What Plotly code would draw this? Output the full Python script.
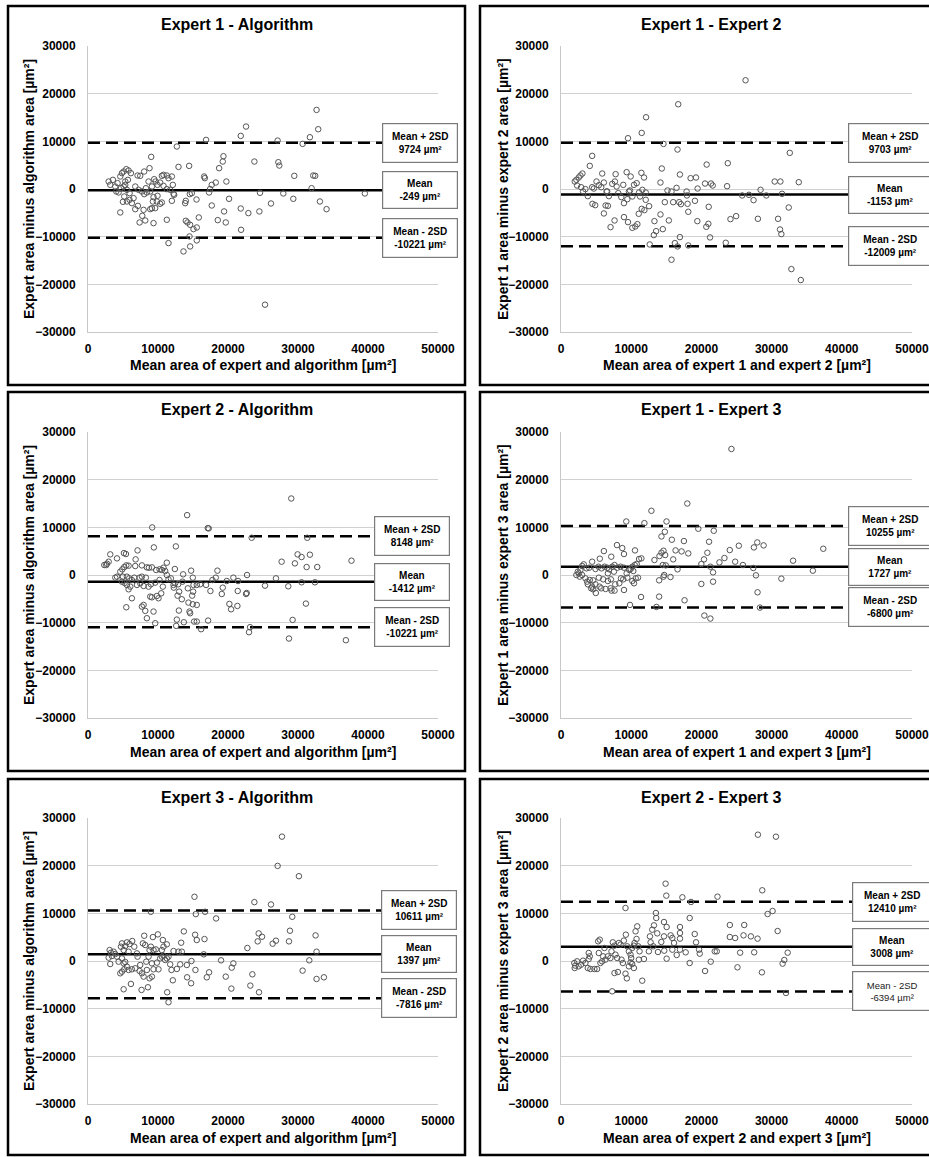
import plotly.graph_objects as go

W, H = 929, 1157

# ---------------- data ----------------
titles = ["Expert 1 - Algorithm", "Expert 1 - Expert 2",
          "Expert 2 - Algorithm", "Expert 1 - Expert 3",
          "Expert 3 - Algorithm", "Expert 2 - Expert 3"]
x_titles = ["Mean area of expert and algorithm [µm²]", "Mean area of expert 1 and expert 2 [µm²]",
            "Mean area of expert and algorithm [µm²]", "Mean area of expert 1 and expert 3 [µm²]",
            "Mean area of expert and algorithm [µm²]", "Mean area of expert 2 and expert 3 [µm²]"]
y_titles = ["Expert area minus algorithm area [µm²]", "Expert 1 area minus expert 2 area [µm²]",
            "Expert area minus algorithm area [µm²]", "Expert 1 area minus expert 3 area [µm²]",
            "Expert area minus algorithm area [µm²]", "Expert 2 area minus expert 3 area [µm²]"]

means = [-249, -1153, -1412, 1727, 1397, 3008]
upper = [9724, 9703, 8148, 10255, 10611, 12410]
lower = [-10221, -12009, -10972, -6800, -7816, -6394]
mean_labels = ["-249", "-1153", "-1412", "1727", "1397", "3008"]
upper_labels = ["9724", "9703", "8148", "10255", "10611", "12410"]
lower_labels = ["-10221", "-12009", "-10221", "-6800", "-7816", "-6394"]

x_range = [0, 50000]
y_range = [-30000, 30000]
tick_step = 10000

p1 = [(32650,16590),(32890,12540),(22580,13100),(21820,11140),(31700,10860),(30660,9470),(27090,10160),
      (16870,10300),(12690,8910),(9030,6740),(19350,6880),(19250,5760),(18730,4370),(23770,5760),(27190,5620),
      (27330,4920),(12930,4640),(14450,4850),(8790,4370),(29470,2760),(32180,2830),(32460,2760),(16590,2620),
      (16690,2270),(19770,1570),(18250,1360),(17680,870),(17440,0),(17300,-730),(31940,170),(24570,-800),
      (27900,-940),(39550,-940),(14830,-870),(14540,-1080),(15500,-2200),(13970,-2480),(13880,-2970),
      (20150,-2060),(29330,-2060),(33130,-2620),(34080,-4230),(26140,-3040),(17680,-3460),(19440,-4710),
      (21820,-4090),(22910,-5060),(24480,-4710),(15830,-5970),(18540,-6530),(19680,-7020),(13970,-6670),
      (14210,-7020),(14590,-7510),(15540,-8070),(15070,-8420),(21870,-8560),(11260,-6460),(14500,-9950),
      (15540,-10790),(11500,-11350),(14590,-12050),(13640,-13100),(25290,-24270),(4610,-4920),(7370,-7020),
      (8180,-6600),(9360,-7160),(7750,-5620),(7940,-4370),(7130,-3530),(6750,-4230),(6270,-2970),(5940,-2270),
      (8890,-4230),(9130,-4020),(9600,-4020),(9840,-2620),(9270,-2620),(10310,-3110),(10550,-2830),
      (11980,-2480),(12220,-1010),(11740,-170),(12310,-1220),(2950,1570),(3180,870),(3560,1920),(3900,520),
      (4040,-520),(4370,-730),(4230,1220),(4610,2620),(4850,3320),(5090,3670),(5470,4160),(5800,3880),
      (6130,3320),(4710,170),(5090,520),(5320,870),(5560,-170),(5180,-1570),(4990,-2690),(5560,-2620),
      (5940,-870),(5320,1570),(5700,1920),(7080,2830),(7460,2760),(6750,520),(7220,-170),(7700,-520),
      (8030,-1080),(8030,3670),(8650,1570),(9130,520),(9460,2060),(9650,1570),(9930,870),(10310,1360),
      (10550,2760),(10790,2970),(11260,2830),(11500,2270),(11980,2620),(10790,660),(11260,-30),(12120,870),
      (8890,-520),(8410,-730),(8270,170),(6510,-1920),(9360,-1710),(9930,-1430)]

p2 = [(26290,22810),(16700,17780),(12120,15050),(11500,11770),(9540,10650),(14600,9460),(16600,8280),
      (32590,7580),(4440,6950),(4100,4850),(20750,5130),(23760,5410),(14360,4300),(5870,3250),(7780,3110),
      (9350,3530),(9920,2620),(11450,3390),(11830,2410),(16940,3040),(18460,2270),(19230,2410),(14170,1360),
      (20520,1150),(21370,1150),(21610,730),(23660,590),(30440,1570),(31250,1570),(33870,1430),(19460,100),
      (16460,240),(15170,-310),(15740,-520),(17890,-520),(17940,-1360),(25810,-1360),(26770,-1220),
      (28430,-170),(29250,-1360),(27430,-2340),(31490,-1010),(14790,-2760),(15980,-2760),(16840,-2760),
      (17080,-3180),(18030,-3110),(19080,-2480),(21040,-3740),(14170,-5340),(12550,-3600),(11880,-4440),
      (11500,-4160),(11070,-5200),(18130,-4780),(19420,-6740),(20990,-7300),(20700,-7930),(21230,-10160),
      (24140,-6320),(24950,-5690),(28050,-6250),(30920,-6250),(31200,-8490),(31390,-9460),(32440,-3880),
      (32820,-16800),(34160,-19100),(13310,-6740),(13550,-8840),(13220,-9670),(12640,-11630),(14500,-8420),
      (15360,-6600),(16220,-11350),(16940,-10090),(18130,-11840),(23470,-11280),(15740,-14840),(16600,-12050),
      (7060,-8000),(7630,-6600),(8970,-5900),(9540,-6950),(10160,-8140),(10590,-7860),(10880,-7370),
      (6110,-5130),(6350,-3460),(6680,-3530),(4480,-3110),(4870,-3390),(3820,-1500),(1960,1570),(2190,1920),
      (2530,2410),(2770,2830),(3050,3250),(2290,730),(2860,380),(3150,-520),(3480,-30),(4440,380),(4680,100),
      (5060,1570),(5390,800),(5730,380),(6110,1360),(6490,-520),(6820,-1500),(7300,1080),(7680,1570),
      (7920,520),(8160,-870),(8590,-1710),(8870,870),(8970,-2970),(9450,-2130),(9680,-520),(9830,-310),
      (10160,-1570),(10400,870),(10780,1220),(11120,-730),(11260,-1570),(11590,-170),(12070,-730),
      (12070,-2270),(6580,-520)]

p3 = [(29040,16050),(14160,12560),(9170,9980),(17110,9840),(17250,9770),(31320,7810),(23380,7810),
      (12550,6000),(9410,5790),(7080,5160),(5130,4600),(5420,4400),(3180,4330),(4140,3490),(6800,3280),
      (11260,2580),(29940,4330),(30510,3770),(31700,4260),(27660,2790),(29560,2440),(37640,3000),(31230,1670),
      (32750,1670),(10790,1530),(10220,1190),(9740,1050),(9130,1600),(8700,1530),(5800,1950),(5470,2020),
      (5180,1670),(4900,1190),(6750,1880),(7700,2020),(8410,1600),(2330,2090),(2610,2090),(2950,2790),
      (2710,2370),(3900,-560),(4140,-350),(12410,1260),(13590,140),(14970,-560),(14730,910),(18490,910),
      (18250,-560),(17780,-1050),(17490,-3350),(16870,-2090),(19250,-2650),(19110,-3980),(19820,-1260),
      (21440,-1260),(22720,0),(22670,-3770),(21390,-3350),(21340,-6490),(20200,-6070),(20440,-7190),
      (22580,-3980),(25290,-2230),(26850,-700),(28610,-2370),(30510,-1530),(32420,-1530),(31130,-6000),
      (29230,-9420),(28710,-13330),(36840,-13680),(23000,-12000),(23150,-10950),(16020,-1950),(15540,-2090),
      (15020,-3490),(14880,-4330),(14260,-2790),(15070,-2090),(14350,-5790),(14500,-7670),(14590,-8020),
      (14970,-6140),(15540,-6280),(15160,-9770),(15540,-9770),(16160,-11370),(17160,-9560),(13690,-9910),
      (12690,-9350),(12600,-10670),(12980,-7460),(12790,-4330),(13400,-5090),(13020,-3490),(12260,-2650),
      (12450,-1740),(12880,-1950),(13500,-1400),(9600,-10120),(9360,-7670),(8410,-9070),(8180,-7530),
      (7940,-6280),(7700,-6630),(5470,-6770),(6270,-4880),(5800,-3000),(6040,-2440),(5560,-2090),
      (5230,-1670),(4850,-1400),(6990,-2090),(7460,-1740),(7940,-2300),(8650,-2440),(8890,-4540),
      (9130,-4680),(9840,-4400),(10070,-4880),(10460,-3840),(10690,-2440),(10220,-1050),(9600,-1600),
      (8990,-1950),(8270,-560),(7700,-350),(7370,-560),(6610,-560),(6270,-1050),(5890,-700),(5560,-350),
      (4990,-350),(4610,700),(11500,-910),(11840,-700),(11260,0),(10550,1050),(11030,840),(12220,-2090),
      (20770,-560)]

p4 = [(24280,26440),(17990,15000),(12880,13470),(9300,11230),(11880,10880),(15030,11230),(19560,9700),
      (21760,9280),(14790,9070),(14310,8090),(15790,7400),(17510,7120),(21090,6980),(27960,6840),(28860,6210),
      (25330,6140),(27480,5790),(24040,5230),(37360,5510),(16320,5160),(17180,4950),(18130,4530),(20850,4670),
      (14600,5090),(14310,4670),(14840,4190),(14030,3980),(15980,3280),(20370,3280),(23280,3560),(22570,2650),
      (24810,2790),(25910,2090),(33060,3000),(13310,3140),(10540,5160),(6110,5020),(7970,6280),(8730,5650),
      (8970,4400),(7160,3840),(5530,3420),(14500,2090),(14930,2020),(16600,1190),(19990,2300),(21280,1740),
      (21660,560),(27390,1470),(27770,-70),(35880,910),(31390,-770),(21660,-1400),(19990,-1880),(14700,0),
      (14600,-350),(15600,-420),(13980,-1120),(28000,-3630),(28340,-6840),(17600,-5300),(13980,-4540),
      (11400,-4610),(13600,-6700),(9830,-6280),(20420,-8510),(21280,-9140),(8970,-3140),(7630,-3280),
      (7200,-3280),(6350,-2930),(5730,-2790),(5490,-2440),(4960,-3770),(4580,-3000),(4440,-2440),(3820,-1950),
      (4580,-1120),(4100,-1050),(5390,-560),(6010,-910),(6680,-1260),(7110,-910),(7730,-1950),(8300,-1740),
      (8540,-700),(8870,-910),(9450,-560),(10160,-1260),(10400,-1740),(10640,-700),(10970,-560),(9730,1050),
      (10160,1740),(10500,2090),(10780,2300),(11120,3350),(11450,3490),(9350,350),(8970,1530),(8490,1740),
      (8020,1530),(7630,2090),(7300,1740),(6870,1190),(6580,1530),(6200,1740),(5770,1400),(5340,1740),
      (4910,1260),(4440,2790),(4010,1530),(3630,1400),(3240,2230),(3010,1880),(2770,1050),(2530,350),
      (2190,0),(2390,700),(2670,-350),(3010,0),(3480,-700),(3720,-1400),(4290,-2790),(4910,-1950),(6680,350),
      (7540,700),(9920,1260),(10300,840),(7060,-2790)]

p5 = [(27710,26090),(27090,19950),(30130,17790),(15210,13470),(23770,12350),(26140,11860),(15400,9840),
      (16730,10330),(8980,10330),(18300,8930),(29180,9280),(13690,6210),(28850,6350),(28710,4120),(32510,5370),
      (24380,5790),(24860,5090),(24240,4120),(26850,4260),(26380,3630),(22770,2720),(15300,5510),(15540,4400),
      (16640,4600),(13310,3840),(8030,5300),(9270,5020),(9980,5580),(10690,4400),(11260,3490),(32650,1950),
      (31610,140),(30660,-2020),(32650,-3770),(33700,-3420),(16540,1400),(14780,0),(15350,-1880),(17300,-2370),
      (16970,-3420),(19010,140),(19680,-3280),(20530,-1400),(20770,-490),(20480,-5790),(23190,-5160),
      (23480,-2790),(24430,-6560),(14160,-3420),(14730,-4670),(12120,-4050),(11310,-6560),(11500,-8650),
      (8560,-5510),(7650,-6070),(5090,-5930),(6130,-4810),(12690,-1670),(11930,-1880),(12220,2090),
      (12930,1950),(13400,1950),(14120,-840),(13170,-700),(2950,700),(3090,2300),(3280,1740),(3420,1050),
      (3180,-630),(3660,1950),(3900,1470),(4140,910),(4370,-140),(4710,3000),(4850,3700),(5090,2300),
      (5320,3140),(5560,3910),(5940,3560),(6320,4190),(6610,3000),(5800,1950),(4850,560),(5090,-490),
      (5320,-210),(5560,-1190),(5180,-1740),(4850,-2230),(4610,-2580),(5800,-1880),(6270,-1740),(6750,-1530),
      (6990,1600),(7080,910),(7460,-840),(7370,-2090),(7700,-2580),(7940,-3280),(8410,-1880),(8320,-140),
      (8650,910),(8790,2300),(8170,3350),(7840,3700),(8980,3000),(9360,2300),(9690,2440),(9840,-350),
      (10070,-1740),(9360,-1740),(9130,-490),(10310,560),(10550,910),(10790,1120),(11030,210),(11260,560),
      (11500,910),(11740,-700),(9130,-3280),(8790,-3630),(10550,2300),(10790,3000)]

p6 = [(28050,26500),(30620,26080),(28670,14830),(14900,16220),(15000,13710),(17290,13360),(22290,13500),
      (18520,12380),(9190,11120),(30140,10490),(29430,9860),(13520,10070),(13570,9020),(18330,9020),
      (14670,8180),(13240,7480),(15050,7130),(16950,7130),(24050,7550),(26100,7550),(30860,6290),(16950,5870),
      (19050,5660),(13000,6570),(13710,5800),(14670,5170),(15620,5380),(15860,4830),(24050,5030),(24810,4830),
      (26000,5380),(27050,5170),(28000,4690),(12670,5170),(16950,4690),(19240,3920),(16100,3780),(14290,3990),
      (12760,3920),(13140,3080),(12520,2030),(13810,1890),(14710,2170),(15860,2380),(16480,1260),(16950,2380),
      (17760,1820),(19670,2380),(19760,1540),(21900,2030),(22190,2030),(25520,1750),(27520,1820),(32290,1750),
      (18330,-420),(21330,-140),(20520,-2100),(25140,-1330),(28620,-2380),(31810,210),(31570,-560),
      (32050,-6710),(15050,490),(11810,420),(11570,-4130),(9190,-2660),(9380,-3640),(8100,-2310),(7620,-2520),
      (7290,-6360),(10380,-1470),(10140,-630),(1900,-420),(2050,-980),(1950,-1470),(2290,-70),(2520,-1120),
      (2860,-770),(3140,70),(3480,-420),(3950,1680),(4100,980),(3950,420),(3810,-1470),(4190,-1680),
      (4760,-1680),(5140,-1680),(5290,4130),(5520,4480),(5380,1680),(5620,-420),(5860,-70),(6000,980),
      (6190,2730),(6330,280),(6670,980),(7050,630),(7190,2030),(7380,3920),(7620,3220),(7760,1330),(8000,630),
      (8240,3780),(8480,3430),(8620,280),(8810,-420),(8950,4270),(9240,5520),(9430,3080),(9670,2030),
      (9910,1330),(10000,630),(10140,2730),(10380,3220),(10480,3780),(10760,4620),(10860,7270),(10620,6220),
      (11000,3080),(11190,2030),(11100,280),(9910,-280),(9670,-1120)]

panels = [p1, p2, p3, p4, p5, p6]

# ---------------- layout geometry (pixels) ----------------
col_x = [(88, 438), (561, 912)]
row_y = [(46, 332), (432, 718), (818, 1104)]
frames = [(8, 6, 465, 385), (480, 6, 929, 385),
          (8, 392, 465, 771), (480, 392, 929, 771),
          (8, 779, 465, 1155), (480, 779, 929, 1155)]
title_x = [237, 711]
title_y = [24, 410, 797]
xt_y = [365, 752, 1138]
yt_x = [29, 503]
box_left = [382, 848, 374, 848, 381, 852]
box_right = [458, 932, 450, 932, 457, 932]

def px(x):
    return x / W

def py(y):
    return 1 - y / H

FAM = "Liberation Sans, Arial, sans-serif"
BOLD = dict(family=FAM, color="black", weight="bold")

fig = go.Figure()
annotations = []
shapes = []

for i, pts in enumerate(panels):
    r, c = divmod(i, 2)
    n = "" if i == 0 else str(i + 1)
    xa, ya = "x" + n, "y" + n
    xs = [p[0] for p in pts]
    ys = [p[1] for p in pts]

    fig.add_trace(go.Scatter(x=x_range, y=[upper[i]] * 2, mode="lines", xaxis=xa, yaxis=ya,
                             line=dict(color="black", width=2.5, dash="12px,6px"), hoverinfo="skip",
                             showlegend=False))
    fig.add_trace(go.Scatter(x=x_range, y=[lower[i]] * 2, mode="lines", xaxis=xa, yaxis=ya,
                             line=dict(color="black", width=2.5, dash="12px,6px"), hoverinfo="skip",
                             showlegend=False))
    fig.add_trace(go.Scatter(x=x_range, y=[means[i]] * 2, mode="lines", xaxis=xa, yaxis=ya,
                             line=dict(color="black", width=2.5), hoverinfo="skip", showlegend=False))
    fig.add_trace(go.Scatter(x=xs, y=ys, mode="markers", xaxis=xa, yaxis=ya, showlegend=False,
                             marker=dict(symbol="circle-open", size=5.5, color="#555555",
                                         line=dict(width=1, color="#555555"))))

    x0, x1 = col_x[c]
    y0, y1 = row_y[r]
    fig.update_layout(**{
        ("xaxis" + n): dict(domain=[px(x0), px(x1)], anchor=ya, range=x_range, dtick=tick_step,
                           tick0=0, tickformat="d", showline=True, linecolor="#c8c8c8", linewidth=1,
                           showgrid=False, zeroline=False, ticks="", fixedrange=True,
                           automargin=False, ticklabeloverflow="allow",
                           ticklabelstandoff=6, tickfont=dict(size=12, **BOLD)),
        ("yaxis" + n): dict(domain=[py(y1), py(y0)], anchor=xa, range=y_range, dtick=tick_step,
                           tick0=y_range[0], tickformat="d", showline=True, linecolor="#c8c8c8",
                           linewidth=1, showgrid=True, gridcolor="#d0d0d0", gridwidth=1,
                           zeroline=False, ticks="", fixedrange=True, automargin=False,
                           ticklabeloverflow="allow",
                           ticklabelstandoff=9, tickfont=dict(size=12, **BOLD)),
    })

    fx0, fy0, fx1, fy1 = frames[i]
    if c == 0:
        shapes.append(dict(type="rect", xref="paper", yref="paper", x0=px(fx0), x1=px(fx1),
                           y0=py(fy1), y1=py(fy0), line=dict(color="black", width=2.5), layer="above"))
    else:
        shapes.append(dict(type="path", xref="paper", yref="paper",
                           path=f"M {px(fx1)},{py(fy0)} L {px(fx0)},{py(fy0)} L {px(fx0)},{py(fy1)} L {px(fx1)},{py(fy1)}",
                           line=dict(color="black", width=2.5), layer="above"))

    annotations.append(dict(text=titles[i], xref="paper", yref="paper", x=px(title_x[c]),
                            y=py(title_y[r]), xanchor="center", yanchor="middle", showarrow=False,
                            font=dict(size=16, **BOLD)))
    annotations.append(dict(text=x_titles[i], xref="paper", yref="paper", x=px((x0 + x1) / 2),
                            y=py(xt_y[r]), xanchor="center", yanchor="middle", showarrow=False,
                            font=dict(size=14, **BOLD)))
    annotations.append(dict(text=y_titles[i], xref="paper", yref="paper", x=px(yt_x[c]),
                            y=py((y0 + y1) / 2), xanchor="center", yanchor="middle", showarrow=False,
                            textangle=-90, font=dict(size=14, **BOLD)))

    labels = [("Mean + 2SD", upper_labels[i], upper[i], 34),
              ("Mean", mean_labels[i], means[i], 32),
              ("Mean - 2SD", lower_labels[i], lower[i], 34)]
    for k, (head, val, yv, hgt) in enumerate(labels):
        light = (i == 5 and k == 2)
        if light:
            txt = f"{head}<br>{val} µm²"
            f = dict(size=9.5, family=FAM, color="#222222")
        else:
            txt = f"<b>{head}</b><br><b>{val} µm²</b>"
            f = dict(size=10, family=FAM, color="black")
        annotations.append(dict(text=txt, xref="paper", yref=ya, x=px(box_left[i]), y=yv,
                                xanchor="left", yanchor="middle", showarrow=False, align="center",
                                bgcolor="white", bordercolor="#7a7a7a", borderwidth=1.2, borderpad=2,
                                width=box_right[i] - box_left[i] - 6, height=hgt, font=f))

fig.update_layout(width=W, height=H,
                  margin=dict(l=0, r=0, t=0, b=0, pad=0, autoexpand=False),
                  paper_bgcolor="white", plot_bgcolor="white",
                  annotations=annotations, shapes=shapes, showlegend=False)

fig.write_html("out.html", config={"displayModeBar": False},
               post_script="document.body.style.margin='0';document.body.style.overflow='hidden';")
